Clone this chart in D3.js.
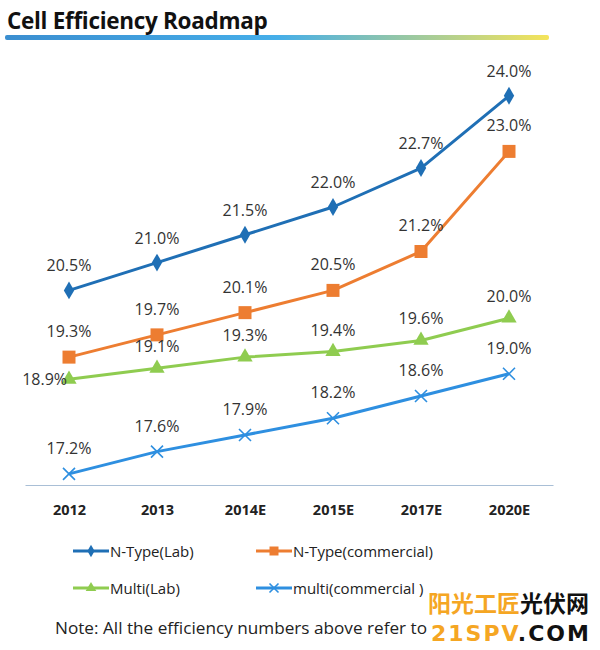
<!DOCTYPE html>
<html><head><meta charset="utf-8">
<script src="https://cdn.jsdelivr.net/npm/d3@7"></script>
<style>body{margin:0;background:#fff}svg{display:block}</style>
</head><body>
<svg id="c" width="600" height="650"></svg>
<script>
const categories = ["2012","2013","2014E","2015E","2017E","2020E"];
const nTypeLab = [20.5,21.0,21.5,22.0,22.7,24.0];
const nTypeCommercial = [19.3,19.7,20.1,20.5,21.2,23.0];
const multiLab = [18.9,19.1,19.3,19.4,19.6,20.0];
const multiCommercial = [17.2,17.6,17.9,18.2,18.6,19.0];
const seriesNames = ["N-Type(Lab)","N-Type(commercial)","Multi(Lab)","multi(commercial )"];

const series = [
  {name:seriesNames[0], values:nTypeLab, color:"#1f6fb5", marker:"diamond", dy:-19},
  {name:seriesNames[1], values:nTypeCommercial, color:"#ed7d31", marker:"square", dy:-20},
  {name:seriesNames[2], values:multiLab, color:"#8fcc50", marker:"triangle", dy:-16},
  {name:seriesNames[3], values:multiCommercial, color:"#2e8fe0", marker:"x", dy:-20}
];

const svg = d3.select("#c");
const font = "'Open Sans', 'Noto Sans', sans-serif";

// Title
svg.append("text").attr("x",7).attr("y",29).attr("font-family",font)
  .attr("font-weight","bold").attr("font-size",22.5).attr("fill","#111")
  .attr("letter-spacing","-0.3").text("Cell Efficiency Roadmap");
const grad = svg.append("defs").append("linearGradient").attr("id","g");
grad.append("stop").attr("offset","0%").attr("stop-color","#3b8ed0");
grad.append("stop").attr("offset","50%").attr("stop-color","#45aee9");
grad.append("stop").attr("offset","75%").attr("stop-color","#9cc9a0");
grad.append("stop").attr("offset","100%").attr("stop-color","#f5e45a");
svg.append("rect").attr("x",5).attr("y",35).attr("width",544).attr("height",5)
  .attr("rx",2).attr("fill","url(#g)");

const x = d3.scalePoint().domain(categories).range([25,553]).padding(0.5);
const y = d3.scaleLinear().domain([17,24.5]).range([485,68]);

// x axis
const xAxis = svg.append("g").attr("transform","translate(0,485)")
  .call(d3.axisBottom(x).tickSize(0).tickPadding(20));
xAxis.select(".domain").attr("stroke","#a9bfd6").attr("stroke-width",1.2);
xAxis.selectAll("text").attr("font-family",font).attr("font-weight","bold")
  .attr("font-size",14.5).attr("fill","#222");

function drawMarker(g, type, color, size){
  if(type==="x"){
    const s=size/2;
    g.append("path").attr("d",`M${-s},${-s}L${s},${s}M${-s},${s}L${s},${-s}`)
      .attr("stroke",color).attr("stroke-width",1.6).attr("fill","none");
  } else {
    const sym = type==="diamond"? d3.symbolDiamond : type==="square"? d3.symbolSquare : d3.symbolTriangle;
    const area = type==="diamond"? size*size*0.55 : type==="square"? size*size : size*size*0.6;
    g.append("path").attr("d",d3.symbol().type(sym).size(area)()).attr("fill",color);
  }
}

const line = d3.line().x((d,i)=>x(categories[i])).y(d=>y(d));
series.forEach(s=>{
  svg.append("path").datum(s.values).attr("d",line).attr("fill","none")
    .attr("stroke",s.color).attr("stroke-width",3).attr("stroke-linejoin","round");
  s.values.forEach((v,i)=>{
    const g = svg.append("g").attr("transform",`translate(${x(categories[i])},${y(v)})`);
    drawMarker(g, s.marker, s.color, s.marker==="x"?12:13);
  });
  s.values.forEach((v,i)=>{
    const left = s.marker==="triangle" && i===0;
    svg.append("text")
      .attr("x", left ? x(categories[i]) - 2 : x(categories[i]))
      .attr("y", left ? y(v)+6 : y(v)+s.dy)
      .attr("text-anchor", left ? "end" : "middle")
      .attr("font-family",font).attr("font-size",16).attr("fill","#333")
      .text(v.toFixed(1)+"%");
  });
});

// Legend
const legendPos = [[73,551],[256,551],[73,588],[256,588]];
series.forEach((s,i)=>{
  const [lx,ly] = legendPos[i];
  svg.append("line").attr("x1",lx).attr("x2",lx+36).attr("y1",ly).attr("y2",ly)
    .attr("stroke",s.color).attr("stroke-width",3);
  const g = svg.append("g").attr("transform",`translate(${lx+18},${ly})`);
  drawMarker(g, s.marker, s.color, 9);
  svg.append("text").attr("x",lx+37).attr("y",ly+5.5).attr("font-family",font)
    .attr("font-size",15).attr("fill","#222").text(s.name);
});

// Note (the rest is hidden under the watermark in the reference)
svg.append("text").attr("x",55).attr("y",634).attr("font-family",font)
  .attr("font-size",16.5).attr("fill","#222")
  .attr("textLength",372).attr("lengthAdjust","spacingAndGlyphs")
  .text("Note: All the efficiency numbers above refer to");

// Watermark
const wm1 = svg.append("text").attr("x",428).attr("y",612)
  .attr("font-family","'Noto Sans CJK SC', sans-serif").attr("font-weight","bold")
  .attr("font-size",23);
wm1.append("tspan").attr("fill","#f5a623").text("阳光工匠");
wm1.append("tspan").attr("fill","#111").text("光伏网");
const wm2 = svg.append("text").attr("x",431).attr("y",641)
  .attr("font-family","'DejaVu Sans', sans-serif").attr("font-weight","bold")
  .attr("font-size",22).attr("letter-spacing","2");
wm2.append("tspan").attr("fill","#f5a623").text("21SPV");
wm2.append("tspan").attr("fill","#111").text(".COM");
</script>
</body></html>
